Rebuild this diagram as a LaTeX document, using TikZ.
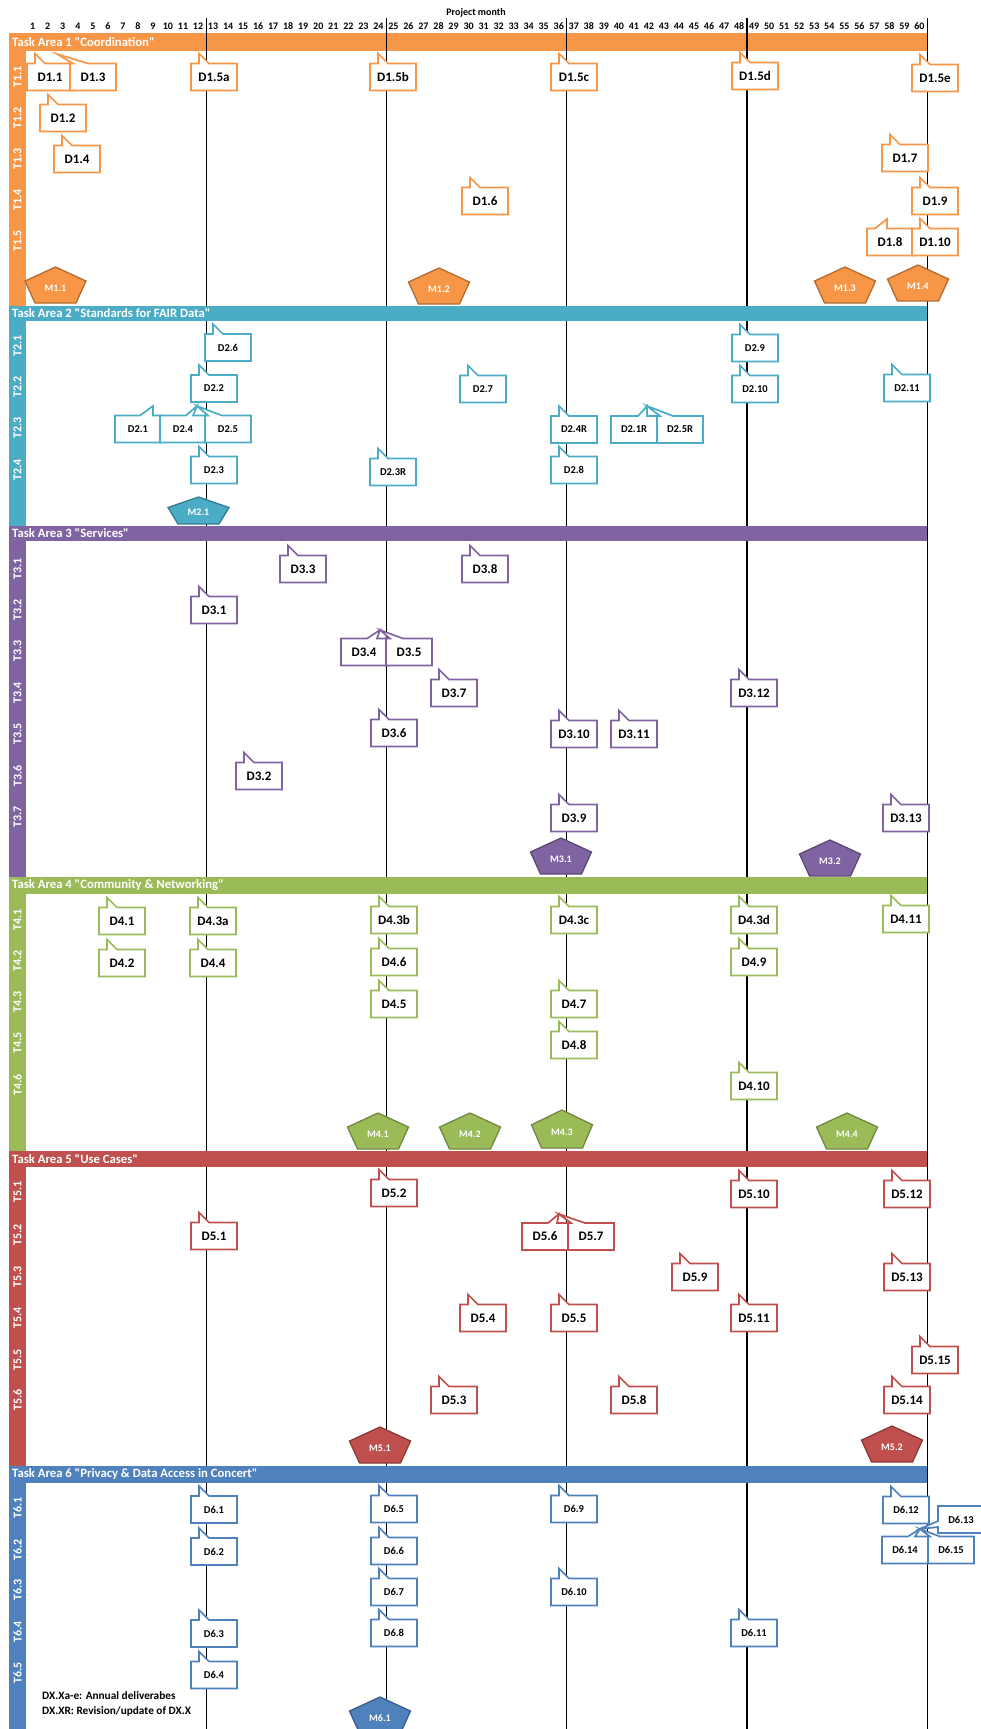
\documentclass[tikz,border=0pt]{standalone}
\usepackage{fontspec}
\setmainfont{Carlito}
\newfontfamily\hfont{Carlito}
\definecolor{ta1}{HTML}{F79646}
\definecolor{ta2}{HTML}{4BACC6}
\definecolor{ta3}{HTML}{8064A2}
\definecolor{ta4}{HTML}{9BBB59}
\definecolor{ta5}{HTML}{C0504D}
\definecolor{ta6}{HTML}{4F81BD}
\newcommand{\dbig}{\bfseries\fontsize{13}{15}\selectfont}
\newcommand{\dsmall}{\bfseries\fontsize{10.5}{12}\selectfont}
\newcommand{\nsize}{\bfseries\fontsize{10}{12}\selectfont}
\newcommand{\qq}[1]{\symbol{34}#1\symbol{34}}
\tikzset{
  dline/.style={draw=black,fill=white,line width=1.7pt},
  dtext/.style={font=\dbig,inner sep=0pt},
  mline/.style={fill=black},
  mtext/.style={text=white,font=\nsize,inner sep=0pt},
  area/.style={dline/.style={draw=#1,fill=white,line width=1.7pt},
    mline/.style={fill=#1,draw=#1!72!black,line width=1.3pt}},
  tlab/.style={rotate=90,text=white,inner sep=0pt,font=\bfseries\fontsize{12}{14}\selectfont},
  ahead/.style={anchor=west,text=white,inner sep=0pt,font=\hfont\bfseries\fontsize{12.7}{14}\selectfont},
  mnum/.style={font=\nsize,inner sep=0pt},
  legend/.style={anchor=west,inner sep=0pt,font=\bfseries\fontsize{11.3}{13}\selectfont},
  month/.style={line width=1.1pt}
}
% deliverable: name, left, row centre, label
\newcommand{\dlv}[4]{%
  \filldraw[dline] (#2,#3-13.5) -- ++(8,0) -- ++(0,-10) -- ++(10,10) -- (#2+46,#3-13.5)
    -- (#2+46,#3+13.5) -- (#2,#3+13.5) -- cycle;
  \node[dtext] (#1) at (#2+23,#3) {#4};
}
% deliverable with its own tail
\newcommand{\dlvt}[5]{%
  \filldraw[dline] (#2,#3-13.5) #5 -- (#2+46,#3-13.5)
    -- (#2+46,#3+13.5) -- (#2,#3+13.5) -- cycle;
  \node[dtext] (#1) at (#2+23,#3) {#4};
}
% milestone: name, centre x, top, label
\def\mh{36}
\newcommand{\mst}[4]{%
  \filldraw[mline] (#2,#3) -- (#2+30.5,#3+0.39*\mh) -- (#2+20.5,#3+\mh)
    -- (#2-20.5,#3+\mh) -- (#2-30.5,#3+0.39*\mh) -- cycle;
  \node[mtext] (#1) at (#2,#3+0.58*\mh) {#4};
}
\begin{document}
\begin{tikzpicture}[x=1pt,y=-1pt]
\useasboundingbox (0,0) rectangle (980,1729);

% months
\node[mnum] (pm) at (476,13) {Project month};
\foreach \m in {1,...,60}
  \node[mnum] (n\m) at ({32.7+15.03*(\m-1)},26) {\m};
\fill[ta1] (9,33) rectangle (927,51);
\foreach \m in {12,24,36,48,60}
  \draw[month] ({26+15.02*\m},18) -- ({26+15.02*\m},1729);

% Task Area 1
\node[ahead] (area1) at (12,42) {Task Area 1 \qq{Coordination}};
\fill[ta1] (9,51) rectangle (26,306);
\foreach \t/\y in {1/77,2/118,3/159,4/200,5/241}
  \node[tlab] (t1-\t) at (17.5,\y) {T1.\t};
\begin{scope}[area=ta1]
  \dlv{d1-1}{27}{77}{D1.1}
  \dlvt{d1-3}{70}{77}{D1.3}{-- (73,63.5) -- (57,54) -- (88,63.5)}
  \dlv{d1-5a}{191}{77}{D1.5a}
  \dlv{d1-5b}{370}{77}{D1.5b}
  \dlv{d1-5c}{551}{77}{D1.5c}
  \dlv{d1-5d}{732}{76}{D1.5d}
  \dlv{d1-5e}{912}{78}{D1.5e}
  \dlv{d1-2}{40}{118}{D1.2}
  \dlv{d1-4}{54}{159}{D1.4}
  \dlv{d1-7}{882}{158}{D1.7}
  \dlv{d1-6}{462}{201}{D1.6}
  \dlv{d1-9}{912}{201}{D1.9}
  \dlvt{d1-8}{867}{242}{D1.8}{-- (875,228.5) -- (887,219) -- (887,228.5)}
  \dlv{d1-10}{912}{242}{D1.10}
  \mst{m1-1}{55.5}{267}{M1.1}
  \mst{m1-2}{439}{268}{M1.2}
  \mst{m1-3}{845}{267}{M1.3}
  \mst{m1-4}{918}{265}{M1.4}
\end{scope}

% Task Area 2
\fill[ta2] (9,306) rectangle (927,321);
\node[ahead] (area2) at (12,313.5) {Task Area 2 \qq{Standards for FAIR Data}};
\fill[ta2] (9,321) rectangle (26,526);
\foreach \t/\y in {1/346,2/387,3/428,4/470}
  \node[tlab] (t2-\t) at (17.5,\y) {T2.\t};
\begin{scope}[area=ta2,dtext/.style={font=\dsmall,inner sep=0pt}]
  \dlv{d2-6}{205}{347.5}{D2.6}
  \dlv{d2-9}{732}{348}{D2.9}
  \dlv{d2-2}{191}{388.5}{D2.2}
  \dlv{d2-7}{460}{389}{D2.7}
  \dlv{d2-10}{732}{389}{D2.10}
  \dlv{d2-11}{884}{388}{D2.11}
  \dlvt{d2-1}{115}{429}{D2.1}{-- (140,415.5) -- (153,406) -- (153,415.5)}
  \dlvt{d2-4}{160}{429}{D2.4}{-- (186,415.5) -- (197,406) -- (193,415.5)}
  \dlvt{d2-5}{205}{429}{D2.5}{-- (208,415.5) -- (197,406) -- (222,415.5)}
  \dlv{d2-4r}{551}{429.5}{D2.4R}
  \dlvt{d2-1r}{611}{429.5}{D2.1R}{-- (638,416) -- (647,406) -- (647,416)}
  \dlvt{d2-5r}{657}{429.5}{D2.5R}{-- (660,416) -- (647,406) -- (673,416)}
  \dlv{d2-3}{191}{470}{D2.3}
  \dlv{d2-3r}{370}{472}{D2.3R}
  \dlv{d2-8}{551}{470}{D2.8}
  {\def\mh{27}\mst{m2-1}{198.5}{497}{M2.1}}
\end{scope}

% Task Area 3
\fill[ta3] (9,526) rectangle (927,541);
\node[ahead] (area3) at (12,533.5) {Task Area 3 \qq{Services}};
\fill[ta3] (9,541) rectangle (26,877);
\foreach \t/\y in {1/569,2/610,3/651,4/693,5/734,6/776,7/817}
  \node[tlab] (t3-\t) at (17.5,\y) {T3.\t};
\begin{scope}[area=ta3]
  \dlv{d3-3}{280}{569}{D3.3}
  \dlv{d3-8}{462}{569}{D3.8}
  \dlv{d3-1}{191}{610}{D3.1}
  \dlvt{d3-4}{341}{652}{D3.4}{-- (367,638.5) -- (380,630) -- (377,638.5)}
  \dlvt{d3-5}{386}{652}{D3.5}{-- (390,638.5) -- (380,630) -- (403,638.5)}
  \dlv{d3-7}{431}{693}{D3.7}
  \dlv{d3-12}{731}{693}{D3.12}
  \dlv{d3-6}{371}{733}{D3.6}
  \dlv{d3-10}{551}{734}{D3.10}
  \dlv{d3-11}{611}{734}{D3.11}
  \dlv{d3-2}{236}{776}{D3.2}
  \dlv{d3-9}{551}{818}{D3.9}
  \dlv{d3-13}{883}{818}{D3.13}
  \mst{m3-1}{561}{838}{M3.1}
  \mst{m3-2}{830}{840}{M3.2}
\end{scope}

% Task Area 4
\fill[ta4] (9,877) rectangle (927,894);
\node[ahead] (area4) at (12,885.5) {Task Area 4 \qq{Community \& Networking}};
\fill[ta4] (9,894) rectangle (26,1151);
\foreach \t/\y in {1/920,2/961,3/1002,5/1043,6/1085}
  \node[tlab] (t4-\t) at (17.5,\y) {T4.\t};
\begin{scope}[area=ta4]
  \dlv{d4-1}{99}{921}{D4.1}
  \dlv{d4-3a}{190}{921}{D4.3a}
  \dlv{d4-3b}{371}{920}{D4.3b}
  \dlv{d4-3c}{551}{920}{D4.3c}
  \dlv{d4-3d}{731}{920}{D4.3d}
  \dlv{d4-11}{883}{919}{D4.11}
  \dlv{d4-2}{99}{963}{D4.2}
  \dlv{d4-4}{190}{963}{D4.4}
  \dlv{d4-6}{371}{962}{D4.6}
  \dlv{d4-9}{731}{962}{D4.9}
  \dlv{d4-5}{371}{1004}{D4.5}
  \dlv{d4-7}{551}{1004}{D4.7}
  \dlv{d4-8}{551}{1045}{D4.8}
  \dlv{d4-10}{731}{1086}{D4.10}
  \mst{m4-1}{378}{1113}{M4.1}
  \mst{m4-2}{470}{1113}{M4.2}
  {\def\mh{38}\mst{m4-3}{562}{1110}{M4.3}}
  \mst{m4-4}{847}{1113}{M4.4}
\end{scope}

% Task Area 5
\fill[ta5] (9,1151) rectangle (927,1167);
\node[ahead] (area5) at (12,1159) {Task Area 5 \qq{Use Cases}};
\fill[ta5] (9,1167) rectangle (26,1466);
\foreach \t/\y in {1/1192,2/1235,3/1277,4/1318,5/1360,6/1400}
  \node[tlab] (t5-\t) at (17.5,\y) {T5.\t};
\begin{scope}[area=ta5]
  \dlv{d5-2}{371}{1193}{D5.2}
  \dlv{d5-10}{731}{1194}{D5.10}
  \dlv{d5-12}{884}{1194}{D5.12}
  \dlv{d5-1}{191}{1236}{D5.1}
  \dlvt{d5-6}{522}{1236.5}{D5.6}{-- (548,1223) -- (559,1214) -- (557,1223)}
  \dlvt{d5-7}{568}{1236.5}{D5.7}{-- (571,1223) -- (559,1214) -- (585,1223)}
  \dlv{d5-9}{672}{1277}{D5.9}
  \dlv{d5-13}{884}{1277}{D5.13}
  \dlv{d5-4}{460}{1318}{D5.4}
  \dlv{d5-5}{551}{1318}{D5.5}
  \dlv{d5-11}{731}{1318}{D5.11}
  \dlv{d5-15}{912}{1360}{D5.15}
  \dlv{d5-3}{431}{1400}{D5.3}
  \dlv{d5-8}{611}{1400}{D5.8}
  \dlv{d5-14}{884}{1400}{D5.14}
  \mst{m5-1}{380}{1427}{M5.1}
  \mst{m5-2}{892}{1426}{M5.2}
\end{scope}

% Task Area 6
\fill[ta6] (9,1466) rectangle (927,1483);
\node[ahead] (area6) at (12,1474.5) {Task Area 6 \qq{Privacy \& Data Access in Concert}};
\fill[ta6] (9,1483) rectangle (26,1729);
\foreach \t/\y in {1/1508,2/1550,3/1590,4/1632,5/1673}
  \node[tlab] (t6-\t) at (17.5,\y) {T6.\t};
\begin{scope}[area=ta6,dtext/.style={font=\dsmall,inner sep=0pt}]
  \dlv{d6-1}{191}{1509.5}{D6.1}
  \dlv{d6-5}{371}{1509}{D6.5}
  \dlv{d6-9}{551}{1509}{D6.9}
  \dlv{d6-12}{883}{1510}{D6.12}
  \filldraw[dline] (938,1506) -- (984,1506) -- (984,1533) -- (938,1533) -- (938,1527)
    -- (920,1529) -- (938,1521) -- cycle;
  \node[dtext] (d6-13) at (961,1519.5) {D6.13};
  \dlv{d6-2}{191}{1551.5}{D6.2}
  \dlv{d6-6}{371}{1551}{D6.6}
  \dlvt{d6-14}{882}{1550}{D6.14}{-- (908,1536.5) -- (920,1529) -- (915,1536.5)}
  \dlvt{d6-15}{928}{1550}{D6.15}{-- (930,1536.5) -- (920,1529) -- (940,1536.5)}
  \dlv{d6-7}{371}{1592}{D6.7}
  \dlv{d6-10}{551}{1592}{D6.10}
  \dlv{d6-3}{191}{1633.5}{D6.3}
  \dlv{d6-8}{371}{1633}{D6.8}
  \dlv{d6-11}{731}{1633}{D6.11}
  \dlv{d6-4}{191}{1675}{D6.4}
  \mst{m6-1}{380}{1697}{M6.1}
\end{scope}
\node[legend] (leg1) at (42,1696) {DX.Xa-e: Annual deliverabes};
\node[legend] (leg2) at (42,1711) {DX.XR: Revision/update of DX.X};
\end{tikzpicture}
\end{document}
